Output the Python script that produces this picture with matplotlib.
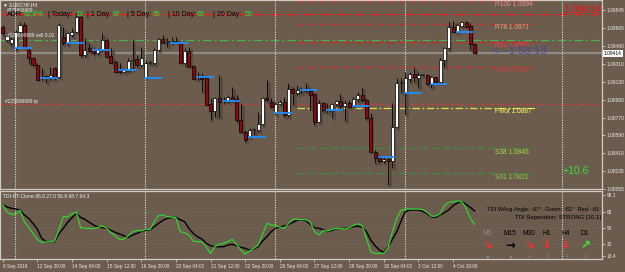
"""
EURCHF H4 chart (MT4 style) with pivot levels and a TDI sub-window.
Values read off the screenshot by eye.
"""

import matplotlib
matplotlib.use("Agg")
import matplotlib.pyplot as plt
from matplotlib.transforms import blended_transform_factory

plt.rcParams['font.family'] = ['Liberation Sans', 'DejaVu Sans']

W, H = 625, 272
BG = '#6b5c4d'
FRAME = '#d2cbc3'
AXIS_TXT = '#ececec'

# ---- candles (H4 bars, 9 Sep 2016 12:00 .. 5 Oct 2016 16:00) ----
open_ = [
    1.09675, 1.09545, 1.09515, 1.09465, 1.09625, 1.09695, 1.09445, 1.09365, 1.09295, 1.09165,
    1.09185, 1.09175, 1.09265, 1.09175, 1.09575, 1.09515, 1.09595, 1.09625, 1.09775, 1.09395,
    1.09465, 1.09445, 1.09415, 1.09445, 1.09545, 1.09385, 1.09325, 1.09245, 1.09225, 1.09235,
    1.09335, 1.09355, 1.09295, 1.09165, 1.09315, 1.09315, 1.09445, 1.09555, 1.09525, 1.09515,
    1.09535, 1.09525, 1.09315, 1.09435, 1.09285, 1.09175, 1.09175, 1.09165, 1.08905, 1.08835,
    1.08965, 1.08935, 1.08925, 1.08975, 1.08955, 1.08745, 1.08625, 1.08575, 1.08645, 1.08645,
    1.08705, 1.08965, 1.08925, 1.08815, 1.08905, 1.08925, 1.08795, 1.09055, 1.09015, 1.09045,
    1.09035, 1.09035, 1.09005, 1.08725, 1.08915, 1.08845, 1.08835, 1.08905, 1.08935, 1.08885,
    1.08915, 1.08885, 1.08955, 1.08995, 1.08945, 1.08765, 1.08425, 1.08375, 1.08335, 1.08355,
    1.08335, 1.08675, 1.09115, 1.09015, 1.09155, 1.09205, 1.09165, 1.09195, 1.09195, 1.09105,
    1.09175, 1.09125, 1.09345, 1.09465, 1.09675, 1.09625, 1.09685, 1.09725, 1.09685, 1.09505,
]
high = [
    1.09695, 1.09615, 1.09575, 1.09645, 1.09725, 1.09725, 1.09465, 1.09375, 1.09315, 1.09265,
    1.09195, 1.09275, 1.09275, 1.09715, 1.09675, 1.09625, 1.09665, 1.09815, 1.09795, 1.09565,
    1.09515, 1.09475, 1.09465, 1.09615, 1.09565, 1.09465, 1.09345, 1.09315, 1.09265, 1.09365,
    1.09545, 1.09395, 1.09475, 1.09345, 1.09345, 1.09465, 1.09565, 1.09595, 1.09565, 1.09575,
    1.09575, 1.09525, 1.09465, 1.09475, 1.09295, 1.09225, 1.09215, 1.09175, 1.08965, 1.08975,
    1.09195, 1.08975, 1.08995, 1.09075, 1.08995, 1.08915, 1.08645, 1.08665, 1.08665, 1.08825,
    1.08975, 1.09145, 1.08965, 1.08925, 1.08945, 1.08975, 1.09115, 1.09075, 1.09095, 1.09075,
    1.09115, 1.09065, 1.09015, 1.08945, 1.08925, 1.08915, 1.08915, 1.08945, 1.09005, 1.08945,
    1.08945, 1.08975, 1.09025, 1.09075, 1.08965, 1.08815, 1.08445, 1.08395, 1.08375, 1.08365,
    1.08915, 1.09165, 1.09165, 1.09225, 1.09225, 1.09275, 1.09225, 1.09205, 1.09205, 1.09185,
    1.09175, 1.09365, 1.09475, 1.09725, 1.09735, 1.09715, 1.09735, 1.09735, 1.09715, 1.09515,
]
low = [
    1.09595, 1.09525, 1.09485, 1.09445, 1.09605, 1.09465, 1.09315, 1.09285, 1.09145, 1.09145,
    1.09115, 1.09145, 1.09145, 1.09165, 1.09495, 1.09495, 1.09575, 1.09615, 1.09375, 1.09375,
    1.09415, 1.09395, 1.09395, 1.09425, 1.09375, 1.09315, 1.09225, 1.09215, 1.09215, 1.09225,
    1.09245, 1.09275, 1.09275, 1.09165, 1.09295, 1.09295, 1.09435, 1.09515, 1.09475, 1.09505,
    1.09515, 1.09315, 1.09295, 1.09275, 1.09155, 1.09145, 1.09025, 1.08895, 1.08745, 1.08775,
    1.08765, 1.08915, 1.08915, 1.08925, 1.08725, 1.08615, 1.08525, 1.08565, 1.08595, 1.08625,
    1.08695, 1.08925, 1.08865, 1.08795, 1.08895, 1.08775, 1.08775, 1.08895, 1.08995, 1.09005,
    1.09015, 1.08845, 1.08695, 1.08715, 1.08825, 1.08815, 1.08765, 1.08885, 1.08845, 1.08735,
    1.08865, 1.08875, 1.08925, 1.08925, 1.08745, 1.08425, 1.08315, 1.08315, 1.08315, 1.08095,
    1.08265, 1.08665, 1.09015, 1.08795, 1.09125, 1.09125, 1.09065, 1.09185, 1.09095, 1.09065,
    1.09115, 1.09115, 1.09275, 1.09445, 1.09625, 1.09615, 1.09675, 1.09665, 1.09445, 1.09414,
]
close = [
    1.09615, 1.09585, 1.09555, 1.09625, 1.09695, 1.09475, 1.09365, 1.09295, 1.09145, 1.09175,
    1.09165, 1.09195, 1.09175, 1.09695, 1.09515, 1.09615, 1.09625, 1.09775, 1.09395, 1.09445,
    1.09435, 1.09415, 1.09455, 1.09545, 1.09375, 1.09315, 1.09225, 1.09225, 1.09245, 1.09335,
    1.09345, 1.09295, 1.09365, 1.09315, 1.09325, 1.09445, 1.09555, 1.09515, 1.09535, 1.09535,
    1.09515, 1.09315, 1.09435, 1.09275, 1.09155, 1.09185, 1.09155, 1.08895, 1.08835, 1.08965,
    1.08925, 1.08945, 1.08975, 1.08945, 1.08745, 1.08625, 1.08545, 1.08645, 1.08655, 1.08705,
    1.08965, 1.08945, 1.08875, 1.08905, 1.08925, 1.08795, 1.09055, 1.09015, 1.09045, 1.09055,
    1.09055, 1.08995, 1.08725, 1.08915, 1.08845, 1.08855, 1.08905, 1.08935, 1.08885, 1.08915,
    1.08875, 1.08955, 1.08995, 1.08945, 1.08765, 1.08425, 1.08365, 1.08335, 1.08355, 1.08335,
    1.08675, 1.09115, 1.09125, 1.09165, 1.09205, 1.09175, 1.09195, 1.09205, 1.09105, 1.09175,
    1.09125, 1.09345, 1.09465, 1.09675, 1.09625, 1.09695, 1.09725, 1.09675, 1.09505, 1.09414,
]

# ---- TDI sub-window ----
tdi_green = [
    75.5, 68.0, 64.6, 65.8, 69.5, 56.8, 50.4, 43.6, 36.9, 33.5,
    33.9, 34.3, 35.0, 48.1, 62.4, 62.4, 65.4, 68.0, 50.0, 49.3,
    49.3, 48.9, 50.0, 52.3, 49.3, 44.4, 41.0, 36.5, 37.3, 41.0,
    45.5, 47.0, 46.3, 48.1, 47.8, 56.8, 63.5, 64.3, 62.4, 62.0,
    61.3, 45.5, 44.4, 41.8, 35.0, 34.3, 34.3, 28.6, 21.1, 28.6,
    31.6, 32.4, 34.3, 36.9, 31.3, 24.9, 20.4, 23.8, 26.8, 30.5,
    41.8, 54.9, 53.0, 52.3, 50.8, 49.3, 54.9, 59.4, 59.4, 59.4,
    59.0, 56.8, 45.5, 41.8, 46.6, 46.3, 48.1, 49.3, 49.3, 48.5,
    50.0, 52.6, 54.5, 52.3, 38.0, 23.0, 21.1, 21.1, 21.1, 27.5,
    45.5, 60.5, 69.5, 71.0, 71.0, 71.0, 71.0, 70.3, 67.3, 62.8,
    63.1, 65.4, 74.8, 78.5, 79.3, 80.0, 79.6, 71.8, 60.5, 53.8,
]
tdi_black = [
    75.5, 73.3, 71.8, 71.0, 69.9, 64.3, 60.5, 54.9, 48.5, 38.0,
    34.3, 34.3, 34.3, 43.3, 49.3, 56.0, 61.3, 65.8, 61.6, 59.4,
    56.0, 53.0, 50.8, 50.0, 49.3, 47.0, 44.8, 42.9, 41.0, 39.1,
    41.8, 43.6, 45.9, 47.0, 47.4, 51.1, 54.9, 58.3, 60.5, 61.6,
    61.6, 59.0, 56.8, 49.3, 43.6, 39.9, 37.3, 32.4, 29.8, 28.6,
    28.6, 28.6, 30.5, 31.3, 29.8, 27.9, 26.8, 24.9, 26.0, 28.6,
    35.0, 39.9, 45.5, 49.3, 50.8, 51.9, 53.8, 56.0, 58.6, 59.4,
    57.9, 53.8, 50.0, 49.3, 47.8, 45.5, 47.0, 48.9, 49.3, 49.3,
    50.0, 51.1, 51.9, 50.4, 45.5, 36.1, 29.8, 24.9, 22.3, 28.6,
    36.9, 45.5, 57.5, 68.0, 69.9, 69.9, 69.9, 68.4, 65.8, 62.0,
    61.6, 64.3, 66.9, 69.9, 74.8, 77.8, 79.6, 76.3, 72.9, 68.8,
]

time_labels = ["9 Sep 2016", "12 Sep 20:00", "14 Sep 04:00", "15 Sep 12:00", "16 Sep 20:00",
               "20 Sep 04:00", "21 Sep 12:00", "22 Sep 20:00", "26 Sep 04:00", "27 Sep 12:00",
               "28 Sep 20:00", "30 Sep 04:00", "3 Oct 12:00", "4 Oct 20:00"]
time_label_bars = [0, 8, 16, 24, 32, 40, 48, 56, 64, 72, 80, 88, 96, 104]

price_ticks = [1.09845, 1.09665, 1.09490, 1.09310, 1.09130, 1.08950,
               1.08770, 1.08590, 1.08410, 1.08235, 1.08055]
tdi_tick_pos = [86.8, 68, 50, 32, 18.2]
tdi_tick_text = ["98.1", "68", "50", "32", "13.4"]
tdi_levels = [68, 50, 32]

pivot_names = ["R100", "R78", "R61", "R38", "Pivot", "S38", "S61"]
pivot_levels = [1.0994, 1.0971, 1.0953, 1.0928, 1.0887, 1.0846, 1.0821]
pivot_line_colors = ['#d03030', '#c03030', '#d02828', '#d03030', '#e8e040', '#3f8f3f', '#3f8f3f']
pivot_text_colors = ['#e89090', '#eea080', '#ff3b3b', '#c84040', '#ffff66', '#a8d848', '#88cc40']
pivot_first_bar = 68
pivot_last_bar = 122.9

order_sl = 1.09805
order_open = 1.0955
order_tp = 1.0891
bid = 1.09414

week_start_bars = [3, 33, 63, 93]
day_start_bars = [3, 9, 15, 21, 27, 33, 39, 45, 51, 57, 63, 69, 75, 81, 87, 93, 99, 105]

adr_labels = ["ADR:", "| Today:", "| 1 Day:", "| 5 Day:", "| 10 Day:", "| 20 Day:"]
adr_values = ["62.8%", "13", "67", "65", "66", "50"]
adr_label_px = [7, 48, 87, 127, 168, 213]
adr_value_px = [24, 75, 113, 153, 197, 245]

tf_names = ["M5", "M15", "M30", "H1", "H4", "D1"]
tf_arrows = ["↘", "→", "↘", "↓", "↓", "↗"]
tf_arrow_colors = ['#ff2a2a', '#000000', '#ff2a2a', '#ff2a2a', '#ff2a2a', '#36f036']
tf_name_colors = ['#8c8c8c', '#000000', '#000000', '#000000', '#000000', '#000000']
tf_dots = ["●", "●", "•", "○", "○", "○"]
tf_px = [487, 510, 529, 547, 566, 585]


def fxy(px, py):
    """Screen pixel -> figure fraction."""
    return px / W, 1 - py / H


fig = plt.figure(figsize=(W / 100, H / 100), dpi=100, facecolor=BG)
ax = fig.add_axes([0, 1 - 189 / H, 602 / W, 189 / H], facecolor=BG)
sub = fig.add_axes([0, 1 - 259 / H, 602 / W, 68 / H], facecolor=BG)

n = len(close)
xs = list(range(n))
xlim = (-0.62, 138.4)

# pivot / order lines
ax.hlines(pivot_levels, pivot_first_bar, pivot_last_bar, colors=pivot_line_colors,
          linewidth=0.9, linestyles=[(0, (5.5, 3.5))] * 4 + [(0, (6, 2, 1.5, 2))] + [(0, (5.5, 3.5))] * 2,
          zorder=1)
ax.axhline(order_sl, color='#ff1a1a', lw=0.9, ls=(0, (7, 2.5, 1.5, 2.5)), zorder=1)
ax.axhline(order_open, color='#4fb04f', lw=0.9, ls=(0, (7, 2.5, 1.5, 2.5)), zorder=1)
ax.axhline(order_tp, color='#d83a3a', lw=0.9, ls=(0, (3, 2, 1, 2)), zorder=1)
ax.axhline(bid, color='#8e8a86', lw=1.6, zorder=1)

# weekly separators (+ chart-shift marker)
for a in (ax, sub):
    for b in week_start_bars:
        a.axvline(b - 0.15, color='#e4e4e4', lw=0.8, ls=(0, (1, 1.2)), zorder=1.5)
    a.axvline(129.2, color='#e4e4e4', lw=0.8, ls=(0, (1, 1.2)), zorder=1.5)

# candles: soft dark shadow, wick, body
sh_dx, sh_dy = 0.4, 0.00015
ax.vlines([x + sh_dx for x in xs], [l - sh_dy for l in low], [h - sh_dy for h in high],
          color='#54483c', lw=1.8, zorder=2)
ax.vlines(xs, low, high, color='black', lw=0.6, zorder=3)
bot = [min(o, c) for o, c in zip(open_, close)]
hgt = [max(abs(c - o), 0.000015) for o, c in zip(open_, close)]
cols = ['white' if c >= o else '#8e0a0a' for o, c in zip(open_, close)]
ax.bar(xs, hgt, bottom=bot, width=0.7, color=cols, edgecolor='black', linewidth=0.5, zorder=4)

# daily open markers
for b in day_start_bars:
    ax.hlines(open_[b], b - 0.3, b + 3.7, color='#1e8fff', lw=1.3, zorder=5)

ax.set_xlim(*xlim)
ax.set_ylim(1.08055, 1.09945)
ax.set_xticks([])
ax.yaxis.tick_right()
ax.set_yticks(price_ticks)
ax.set_yticklabels([f"{p:.5f}" for p in price_ticks])
ax.tick_params(axis='y', direction='out', length=2, width=0.6, color=FRAME,
               labelsize=3.5, labelcolor=AXIS_TXT, pad=1)
for s in ax.spines.values():
    s.set_color(FRAME)
    s.set_linewidth(0.9)

tr = blended_transform_factory(ax.transAxes, ax.transData)
ax.text(1.003, bid, "1.09414", transform=tr, fontsize=3.5, color='black', va='center', ha='left',
        bbox=dict(boxstyle='square,pad=0.2', fc='white', ec='none'), zorder=10)

for name, lvl, c in zip(pivot_names, pivot_levels, pivot_text_colors):
    ax.annotate(f"{name} {lvl:.4f}", (113.7, lvl), xytext=(0, -2.6), textcoords='offset points',
                fontsize=4.8, color=c, va='center', ha='left', zorder=8)

# TDI sub-window
for lv in tdi_levels:
    sub.axhline(lv, color='#7d6e60', lw=0.5, ls=(0, (1, 2)), zorder=1)
sub.plot(xs, tdi_black, color='black', lw=1.0, zorder=3)
sub.plot(xs, tdi_green, color='#2fd52f', lw=0.9, zorder=4)
sub.set_xlim(*xlim)
sub.set_ylim(14.8, 91.3)
sub.yaxis.tick_right()
sub.set_yticks(tdi_tick_pos)
sub.set_yticklabels(tdi_tick_text)
sub.set_xticks(time_label_bars)
sub.set_xticklabels(time_labels, ha='left')
sub.tick_params(axis='both', direction='out', length=2, width=0.6, color=FRAME,
                labelsize=3.4, labelcolor=AXIS_TXT, pad=1.5)
for s in sub.spines.values():
    s.set_color(FRAME)
    s.set_linewidth(0.9)

# text overlays (screen positions)
fig.text(*fxy(3, 4.5), "▼ EURCHF,H4", fontsize=3.6, color='#f2f2f2', va='center')
fig.text(*fxy(7, 10), "#225806989", fontsize=3.4, color='#f2f2f2', va='center')
for t, px in zip(adr_labels, adr_label_px):
    fig.text(*fxy(px, 15), t, fontsize=5, color='black', va='center')
for t, px in zip(adr_values, adr_value_px):
    fig.text(*fxy(px, 15), t, fontsize=5, color='#2ee82e', va='center')
fig.text(*fxy(7, 35.5), "#225806989 sell 0.01", fontsize=3.5, color='#f2f2f2', va='center')
fig.text(*fxy(5, 101), "#225806989 tp", fontsize=3.5, color='#f2f2f2', va='center')
fig.text(*fxy(492, 51), "<---1:58:18", fontsize=8.2, color='#4b4b9c', va='center')
fig.text(*fxy(563, 10), "1.09414", fontsize=7.6, color='#ff1010', va='center')
fig.text(*fxy(563, 171), "+10.6", fontsize=7.6, color='#36e036', va='center')

fig.text(*fxy(3, 196), "TDI-RT-Clone 86.8 27.0 56.9 68.7 64.3", fontsize=3.6, color='#f2f2f2', va='center')
fig.text(*fxy(601, 209.5), "TDI WAvg Angle: -67°  Green: -82°  Red: -61°", fontsize=4.1,
         color='black', va='center', ha='right')
fig.text(*fxy(601, 217.5), "TDI Seperation: STRONG [10.1]", fontsize=4.3,
         color='black', va='center', ha='right')
for name, arrow, ac, nc, dot, px in zip(tf_names, tf_arrows, tf_arrow_colors, tf_name_colors, tf_dots, tf_px):
    fig.text(*fxy(px, 233.5), name, fontsize=4.8, color=nc, va='center', ha='center')
    fig.text(*fxy(px, 245), arrow, fontsize=8.5, color=ac, va='center', ha='center',
             fontweight='bold', family='DejaVu Sans')
    fig.text(*fxy(px, 256.5), dot, fontsize=4.5, color='#888888', va='center', ha='center')

fig.savefig("out.png", dpi=100, facecolor=BG)
